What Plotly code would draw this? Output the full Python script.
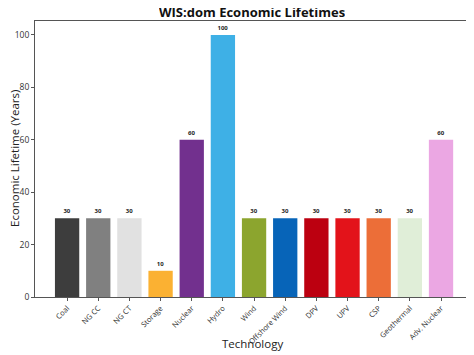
import plotly.graph_objects as go

technologies = ["Coal", "NG CC", "NG CT", "Storage", "Nuclear", "Hydro", "Wind",
                "Offshore Wind", "DPV", "UPV", "CSP", "Geothermal", "Adv. Nuclear"]
lifetimes = [30, 30, 30, 10, 60, 100, 30, 30, 30, 30, 30, 30, 60]
colors = ["#3d3d3d", "#808080", "#e1e1e1", "#fbb132", "#72308e", "#3eb0e6", "#8ca52e",
          "#0764b8", "#bc0010", "#e3131a", "#ec6e38", "#e0eed8", "#eba7e3"]

W, H = 466, 347
L, T, R, B = 27, 13, 4, 58
plot_w = W - L - R
plot_h = H - T - B


def px_x(px):
    return (px - L) / plot_w


def px_y(py):
    return (H - B - py) / plot_h


fig = go.Figure(go.Bar(
    x=technologies, y=lifetimes, marker_color=colors, marker_line_width=0,
    width=0.78, text=[str(v) for v in lifetimes], textposition="outside",
    textfont=dict(size=6, color="#222", family="Open Sans", weight="bold"),
    cliponaxis=False,
))

fig.update_layout(
    width=W, height=H,
    margin=dict(l=L, r=R, t=T, b=B, autoexpand=False),
    paper_bgcolor="white", plot_bgcolor="white",
    font=dict(family="Open Sans", color="#222"),
    showlegend=False,
    annotations=[
        dict(text="<b>WIS:dom Economic Lifetimes</b>", x=px_x(244), xref="paper",
             xanchor="center", y=1, yref="paper", yanchor="bottom", yshift=2,
             height=11, valign="middle",
             showarrow=False, font=dict(size=13, color="#111")),
        dict(text="Technology", x=px_x(244), xref="paper", xanchor="center",
             y=px_y(335), yref="paper", yanchor="middle", showarrow=False,
             font=dict(size=11.5, color="#222")),
        dict(text="Economic Lifetime (Years)", x=px_x(6), xref="paper", xanchor="center",
             y=0.5, yref="paper", yanchor="middle", textangle=-90, showarrow=False,
             font=dict(size=11.5, color="#222")),
    ],
)

fig.update_xaxes(
    range=[-1.03, 12.93], tickangle=-45, tickfont=dict(size=7.5, color="#333"),
    showline=True, linecolor="#555", linewidth=1, mirror=True, automargin=False,
    ticks="outside", ticklen=3, tickcolor="#555",
)
fig.update_yaxes(
    range=[0, 105.3], tickvals=[0, 20, 40, 60, 80, 100], tickfont=dict(size=8.5, color="#333"),
    showline=True, linecolor="#555", linewidth=1, mirror=True, showgrid=False, automargin=False,
    ticks="outside", ticklen=3, tickcolor="#555", zeroline=False,
)
fig.write_html("out.html")
